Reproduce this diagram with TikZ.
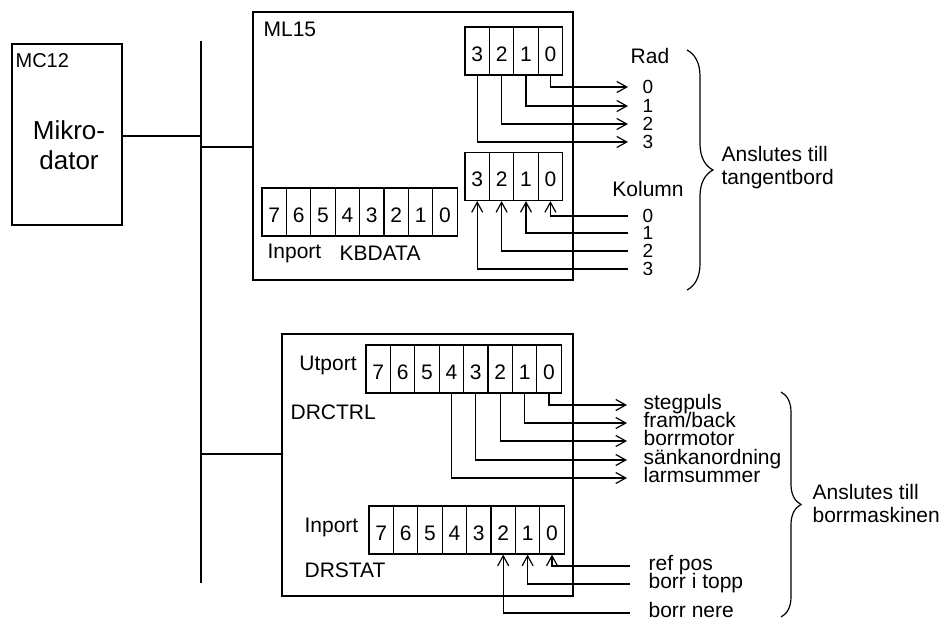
\documentclass[tikz,border=0pt]{standalone}
\usepackage{fontspec}
\setmainfont{Liberation Sans}
\usetikzlibrary{arrows.meta, positioning, calc, decorations.pathreplacing}

\begin{document}
\begin{tikzpicture}[x=1pt, y=-1pt, >={Straight Barb[length=10pt, width=11pt]}, line width=1.2pt,
    box/.style={draw, rectangle, inner sep=0pt},
    cell/.style={draw, rectangle, inner sep=0pt, minimum width=24.4pt, minimum height=48pt,
      text height=20pt, text depth=0pt, font=\fontsize{21}{24}\selectfont},
    txt/.style={inner sep=0pt, font=\fontsize{21}{23}\selectfont},
    sig/.style={anchor=west, inner xsep=#1, inner ysep=0pt, text height=12pt, text depth=4pt,
      font=\fontsize{21}{23}\selectfont},
    sig/.default=15pt,
    num/.style={sig=14pt, text height=13pt, text depth=0pt, font=\fontsize{19}{20}\selectfont},
    curly/.style={decorate, decoration={brace, amplitude=#1}}]
  \useasboundingbox (0,0) rectangle (947,624);

  \node[box, minimum width=110pt, minimum height=181pt] (mc) at (67,134.5) {};
  \node[txt, anchor=west, font=\fontsize{20}{22}\selectfont] (mcname) at (15,61) {MC12};
  \node[txt, align=center, font=\fontsize{26}{30}\selectfont] (mctext) at (69,145) {Mikro-\\dator};

  \node[box, minimum width=320pt, minimum height=268pt] (ml) at (413,146) {};
  \node[txt, anchor=west] (mlname) at (263,29) {ML15};
  \node[box, minimum width=291pt, minimum height=262pt] (dr) at (427.5,465) {};

  \coordinate (busT) at (201,41);
  \coordinate (busB) at (201,583);
  \coordinate (b1) at (201,136);
  \coordinate (b2) at (201,147);
  \coordinate (b3) at (201,454);
  \draw (busT) -- (busB);
  \draw (mc.east |- b1) -- (b1);
  \draw (b2) -- (b2 -| ml.west);
  \draw (b3) -- (b3 -| dr.west);

  \foreach \b in {0,...,3} {
    \node[cell] (rad\b) at ({477.2+24.4*(3-\b)},51) {\b};
    \node[cell] (kol\b) at ({477.2+24.4*(3-\b)},176.5) {\b};
  }
  \foreach \b in {0,...,7} {
    \node[cell] (kb\b) at ({274.2+24.4*(7-\b)},212) {\b};
    \node[cell] (ut\b) at ({378.2+24.4*(7-\b)},369) {\b};
    \node[cell] (in\b) at ({381.2+24.4*(7-\b)},530) {\b};
  }

  \node[txt, anchor=west] (kbport) at (267,253) {Inport};
  \node[txt, anchor=west] (kbname) at (339,253) {KBDATA};
  \node[txt] (utport) at (328,365) {Utport};
  \node[txt, anchor=west] (utname) at (290,412) {DRCTRL};
  \node[txt, anchor=west] (inport) at (304,527) {Inport};
  \node[txt, anchor=west] (inname) at (304,570) {DRSTAT};
  \node[txt] (rad) at (650,56) {Rad};
  \node[txt] (kolumn) at (648,189) {Kolumn};

  \foreach \b/\y in {0/87, 1/106, 2/124, 3/142} {
    \node[num] (rl\b) at (628,\y) {\b};
    \draw[->] (rad\b.south) |- (rl\b.west);
  }
  \foreach \b/\y in {0/216, 1/233, 2/251, 3/269} {
    \node[num] (kl\b) at (628,\y) {\b};
    \draw[->] (kl\b.west) -| (kol\b.south);
  }
  \foreach \b/\y/\t in {0/405/stegpuls, 1/423/fram\slash back, 2/441/borrmotor, 3/460/sänkanordning, 4/478/larmsummer} {
    \node[sig=16pt] (ul\b) at (627,\y) {\t};
    \draw[->] (ut\b.south) |- (ul\b.west);
  }
  \foreach \b/\y/\t in {0/566/ref pos, 1/584/borr i topp, 2/613/borr nere} {
    \node[sig=18pt] (il\b) at (630,\y) {\t};
    \draw[->] (il\b.west) -| (in\b.south);
  }

  \coordinate (kbT) at (687,50);
  \coordinate (kbB) at (687,290);
  \draw[curly=26pt] (kbT) -- (kbB);
  \node[txt, anchor=west, align=left] (kbconn) at (721,168) {Anslutes till\\tangentbord};
  \coordinate (drT) at (781,392);
  \coordinate (drB) at (781,617);
  \draw[curly=20pt] (drT) -- (drB);
  \node[txt, anchor=west, align=left] (drconn) at (812,503) {Anslutes till\\borrmaskinen};
\end{tikzpicture}
\end{document}
